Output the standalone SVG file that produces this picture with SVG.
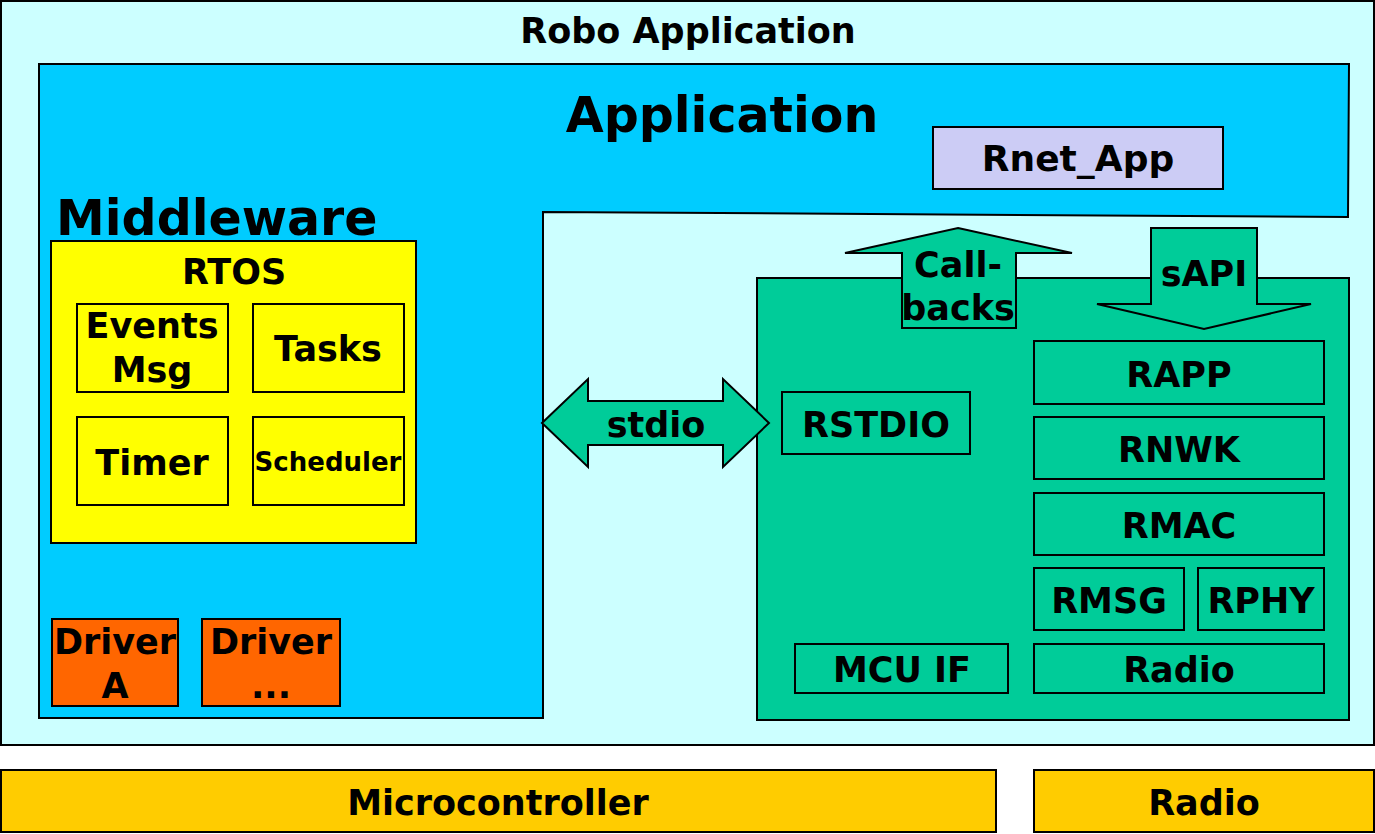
<svg xmlns="http://www.w3.org/2000/svg" width="1375" height="834" viewBox="0 0 1375 834">
<style>
text{font-family:"DejaVu Sans","Verdana",sans-serif;font-weight:bold;fill:#000;text-anchor:middle}
.s{stroke:#000;stroke-width:2}
.g{fill:#00CC99}
.y{fill:#FFFF00}
.o{fill:#FF6600}
.b{fill:#FFCC00}
.m{font-size:35px}
</style>
<rect width="1375" height="834" fill="#FFFFFF"/>
<g id="robo-application">
<rect class="s" x="1" y="1" width="1373" height="744" fill="#CCFFFF"/>
<text x="688" y="43" font-size="35">Robo Application</text>
</g>
<g id="application">
<polygon class="s" points="39,64 1349,64 1348,217 543,212 543,718 39,718" fill="#00CCFF"/>
<text x="722" y="132" font-size="49">Application</text>
<text x="56" y="235" font-size="49" style="text-anchor:start">Middleware</text>
</g>
<g id="rnet-app">
<rect class="s" x="933" y="127" width="290" height="62" fill="#CCCCF5"/>
<text x="1078" y="171" font-size="36">Rnet_App</text>
</g>
<g id="rtos">
<rect class="s y" x="51" y="241" width="365" height="302"/>
<text class="m" x="234" y="284">RTOS</text>
</g>
<g id="events-msg">
<rect class="s y" x="77" y="304" width="151" height="88"/>
<text class="m" x="152" y="338">Events</text>
<text class="m" x="152" y="382">Msg</text>
</g>
<g id="tasks">
<rect class="s y" x="253" y="304" width="151" height="88"/>
<text class="m" x="328" y="361">Tasks</text>
</g>
<g id="timer">
<rect class="s y" x="77" y="417" width="151" height="88"/>
<text class="m" x="152" y="475">Timer</text>
</g>
<g id="scheduler">
<rect class="s y" x="253" y="417" width="151" height="88"/>
<text x="328" y="471" font-size="26">Scheduler</text>
</g>
<g id="driver-a">
<rect class="s o" x="52" y="619" width="126" height="87"/>
<text class="m" x="115" y="654">Driver</text>
<text class="m" x="115" y="698">A</text>
</g>
<g id="driver-etc">
<rect class="s o" x="202" y="619" width="138" height="87"/>
<text class="m" x="271" y="654">Driver</text>
<text class="m" x="271" y="698">...</text>
</g>
<g id="rnet-stack">
<rect class="s g" x="757" y="278" width="592" height="442"/>
</g>
<g id="connectors">
<g id="stdio">
<polygon class="s g" points="542,423 588,379 588,401 723,401 723,379 769,423 723,467 723,445 588,445 588,467"/>
<text class="m" x="656" y="437">stdio</text>
</g>
<g id="callbacks">
<polygon class="s g" points="958,228 1072,253 1016,253 1016,328 902,328 902,253 845,253"/>
<text class="m" x="958" y="277">Call-</text>
<text class="m" x="958" y="320">backs</text>
</g>
<g id="sapi">
<polygon class="s g" points="1151,228 1257,228 1257,304 1311,304 1204,329 1097,304 1151,304"/>
<text class="m" x="1204" y="286">sAPI</text>
</g>
</g>
<g id="rapp">
<rect class="s g" x="1034" y="341" width="290" height="63"/>
<text class="m" x="1179" y="387">RAPP</text>
</g>
<g id="rnwk">
<rect class="s g" x="1034" y="417" width="290" height="62"/>
<text class="m" x="1179" y="462">RNWK</text>
</g>
<g id="rmac">
<rect class="s g" x="1034" y="493" width="290" height="62"/>
<text class="m" x="1179" y="538">RMAC</text>
</g>
<g id="rmsg">
<rect class="s g" x="1034" y="568" width="150" height="62"/>
<text class="m" x="1109" y="613">RMSG</text>
</g>
<g id="rphy">
<rect class="s g" x="1198" y="568" width="126" height="62"/>
<text class="m" x="1261" y="613">RPHY</text>
</g>
<g id="radio-if">
<rect class="s g" x="1034" y="644" width="290" height="49"/>
<text class="m" x="1179" y="682">Radio</text>
</g>
<g id="rstdio">
<rect class="s g" x="782" y="392" width="188" height="62"/>
<text class="m" x="876" y="437">RSTDIO</text>
</g>
<g id="mcu-if">
<rect class="s g" x="795" y="644" width="213" height="49"/>
<text class="m" x="902" y="682">MCU IF</text>
</g>
<g id="microcontroller">
<rect class="s b" x="1" y="770" width="995" height="62"/>
<text class="m" x="498" y="815">Microcontroller</text>
</g>
<g id="radio">
<rect class="s b" x="1034" y="770" width="340" height="62"/>
<text class="m" x="1204" y="815">Radio</text>
</g>
</svg>
